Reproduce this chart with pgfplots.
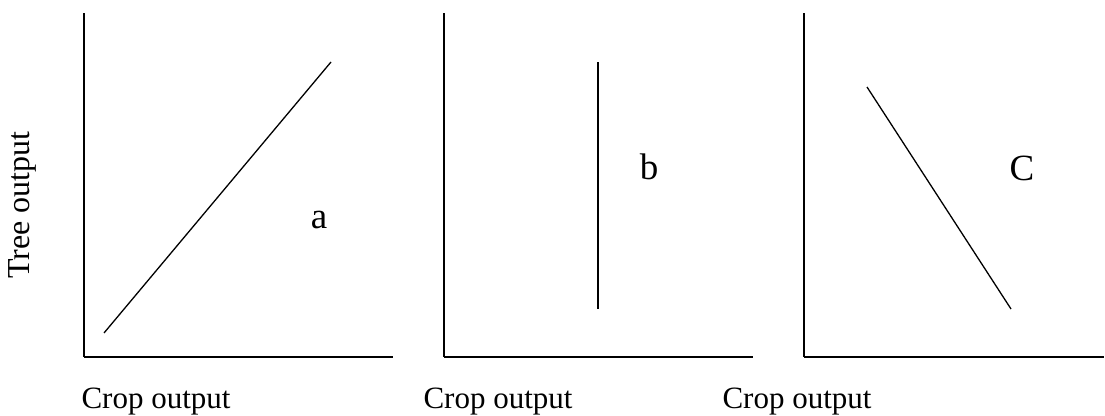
\documentclass[border=0pt]{standalone}
\usepackage{fontspec}
\setmainfont{Liberation Serif}
\usepackage{pgfplots}
\pgfplotsset{compat=1.18}
\pgfplotsset{
  panel/.style={
    scale only axis,
    anchor=south west,
    axis x line=bottom, axis y line=left,
    axis line style={-, line width=1.6bp, black},
    ticks=none,
    xmin=0, ymin=0, ymax=344,
    height=344bp,
    clip=false,
  }
}
\begin{document}
\begin{tikzpicture}
\useasboundingbox (0,0) rectangle (1105bp,416bp);
\begin{axis}[panel, at={(84bp,59bp)}, width=309bp, xmax=309]
  \addplot[black, line width=1.3bp] coordinates {(20,24) (247,295)};
  \node[font=\fontsize{37bp}{42bp}\selectfont] at (axis cs:235,137) {a};
\end{axis}
\begin{axis}[panel, at={(444bp,59bp)}, width=309bp, xmax=309]
  \addplot[black, line width=1.3bp] coordinates {(154,48) (154,295)};
  \node[font=\fontsize{37bp}{42bp}\selectfont] at (axis cs:205,190) {b};
\end{axis}
\begin{axis}[panel, at={(804bp,59bp)}, width=300bp, xmax=300]
  \addplot[black, line width=1.3bp] coordinates {(63,270) (207,48)};
  \node[font=\fontsize{37bp}{42bp}\selectfont] at (axis cs:218,189) {C};
\end{axis}
\node[anchor=base, font=\fontsize{31bp}{36bp}\selectfont] at (156bp,8bp) {Crop output};
\node[anchor=base, font=\fontsize{31bp}{36bp}\selectfont] at (498bp,8bp) {Crop output};
\node[anchor=base, font=\fontsize{31bp}{36bp}\selectfont] at (797bp,8bp) {Crop output};
\node[rotate=90, font=\fontsize{32bp}{36bp}\selectfont] at (22bp,211bp) {Tree output};
\end{tikzpicture}
\end{document}
